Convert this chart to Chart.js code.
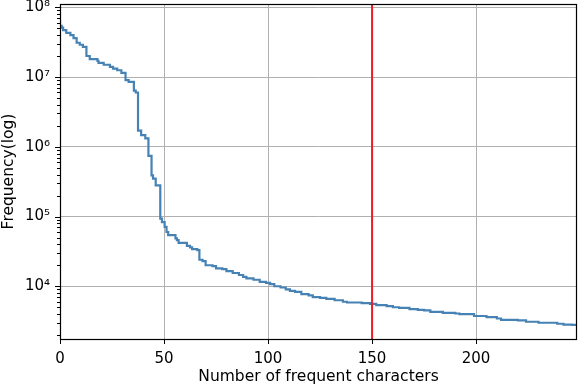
<!DOCTYPE html>
<html>
<head>
<meta charset="utf-8">
<script src="https://cdn.jsdelivr.net/npm/chart.js@4/dist/chart.umd.min.js"></script>
<style>
html,body{margin:0;padding:0;background:#fff;}
#wrap{width:578px;height:386px;}
</style>
</head>
<body>
<div id="wrap"><canvas id="c" width="578" height="386"></canvas></div>
<script>
// ---- data ----
const stepX = [0, 0.8, 1.5, 3, 5, 6.5, 8, 9.5, 11, 12.7, 14.3, 18, 18.5, 21, 24, 25.5, 27.5, 29.5, 31.5, 33, 35.5, 36.4, 37.5, 39, 41, 42.5, 44, 44.7, 46, 48.2, 49, 50.3, 51.2, 52, 55.5, 56.2, 57, 61, 62.5, 63.5, 66, 67, 68.5, 70, 73.3, 75, 78, 80, 83, 86, 88, 89.6, 93, 96, 99, 101, 103, 106, 108.5, 110.5, 113, 116, 119.5, 121.5, 125, 128, 132, 136, 138, 145, 149, 152, 157, 160, 163, 168, 172, 175, 178, 184, 190, 192, 199, 205, 210, 212, 220, 224, 230, 239, 242, 246, 248.5];
const stepY = [6.7e7, 5.4e7, 5.1e7, 4.7e7, 4.3e7, 4.0e7, 3.6e7, 3.1e7, 2.9e7, 2.7e7, 2.0e7, 1.8e7, 1.7e7, 1.6e7, 1.5e7, 1.4e7, 1.32e7, 1.25e7, 1.15e7, 9.0e6, 8.5e6, 6.4e6, 6.0e6, 1.7e6, 1.47e6, 1.32e6, 7.4e5, 3.9e5, 3.5e5, 2.8e5, 9.3e4, 8.3e4, 7.1e4, 6.0e4, 5.4e4, 4.85e4, 4.6e4, 4.2e4, 3.8e4, 3.6e4, 3.4e4, 3.3e4, 2.4e4, 2.3e4, 2.0e4, 1.94e4, 1.8e4, 1.76e4, 1.65e4, 1.55e4, 1.45e4, 1.36e4, 1.3e4, 1.24e4, 1.16e4, 1.12e4, 1.07e4, 1.0e4, 9.6e3, 9.0e3, 8.6e3, 8.3e3, 7.7e3, 7.4e3, 7.0e3, 6.8e3, 6.6e3, 6.3e3, 6.0e3, 5.85e3, 5.75e3, 5.6e3, 5.35e3, 5.2e3, 5.0e3, 4.9e3, 4.7e3, 4.6e3, 4.5e3, 4.3e3, 4.15e3, 4.07e3, 3.98e3, 3.75e3, 3.6e3, 3.45e3, 3.3e3, 3.25e3, 3.1e3, 3.0e3, 2.9e3, 2.82e3, 2.8e3];
const thresholdX = 150;
const xTickValues = [0, 50, 100, 150, 200];
const xRange = [0, 248.5];
const yRange = [1754, 1.114e8];
const xTitle = 'Number of frequent characters';
const yTitle = 'Frequency(log)';

// ---- helpers ----
const SUP = {'0':'⁰','1':'¹','2':'²','3':'³','4':'⁴','5':'⁵','6':'⁶','7':'⁷','8':'⁸','9':'⁹','-':'⁻'};
function isDecade(v){ const l = Math.log10(v); return Math.abs(l - Math.round(l)) < 1e-9; }
function supLabel(v){ const e = Math.round(Math.log10(v)); return '10' + String(e).split('').map(c=>SUP[c]).join(''); }

const curve = stepX.map((x,i)=>({x:x, y:stepY[i]}));
const redLine = [{x:thresholdX, y:yRange[0]}, {x:thresholdX, y:yRange[1]}];

const TICKFONT = {family:'"DejaVu Sans", sans-serif', size:15};
const TITLEFONT = {family:'"DejaVu Sans", sans-serif', size:15.5};

const frame = {
  id:'frame',
  afterDraw(chart){
    const ctx = chart.ctx, a = chart.chartArea;
    const xs = chart.scales.x, ys = chart.scales.y;
    ctx.save();
    ctx.strokeStyle = '#000';
    ctx.lineWidth = 1;
    xs.ticks.forEach(t=>{
      const px = Math.round(xs.getPixelForValue(t.value)) + 0.5;
      ctx.beginPath(); ctx.moveTo(px, a.bottom); ctx.lineTo(px, a.bottom + 5); ctx.stroke();
    });
    ys.ticks.forEach(t=>{
      const py = Math.round(ys.getPixelForValue(t.value)) + 0.5;
      const len = isDecade(t.value) ? 5 : 3;
      ctx.beginPath(); ctx.moveTo(a.left, py); ctx.lineTo(a.left - len, py); ctx.stroke();
    });
    ctx.lineWidth = 1.2;
    ctx.strokeRect(Math.round(a.left)+0.5, Math.round(a.top)+0.5, Math.round(a.right-a.left)-1, Math.round(a.bottom-a.top));
    ctx.restore();
  }
};

new Chart(document.getElementById('c'), {
  type:'line',
  data:{
    datasets:[
      {data:redLine, borderColor:'#ee1c24', borderWidth:2, pointRadius:0, order:0, fill:false},
      {data:curve, borderColor:'#4682b4', borderWidth:2.2, pointRadius:0, stepped:'after', order:1, fill:false}
    ]
  },
  options:{
    responsive:false,
    animation:false,
    devicePixelRatio:1,
    layout:{padding:{top:4, right:1, left:0, bottom:0}},
    plugins:{legend:{display:false}, tooltip:{enabled:false}},
    scales:{
      x:{
        type:'linear', min:xRange[0], max:xRange[1],
        afterBuildTicks(s){ s.ticks = xTickValues.map(v=>({value:v})); },
        afterFit(s){ s.height = 47; s.paddingLeft = 0; s.paddingRight = 0; },
        grid:{color:'#b0b0b0', lineWidth:1, drawTicks:false},
        border:{display:false},
        ticks:{font:TICKFONT, color:'#000', padding:11, maxRotation:0, autoSkip:false, callback:v=>String(v)},
        title:{display:true, text:xTitle, font:TITLEFONT, color:'#000', padding:{top:2, bottom:0}}
      },
      y:{
        type:'logarithmic', min:yRange[0], max:yRange[1],
        afterBuildTicks(s){
          const t = [];
          for (let e = 3; e <= 8; e++) for (let m = 1; m <= 9; m++) {
            const v = m * Math.pow(10, e);
            if (v >= yRange[0] && v <= yRange[1]) t.push({value:v});
          }
          s.ticks = t;
        },
        afterFit(s){ s.width = 60; s.paddingTop = 0; s.paddingBottom = 0; },
        grid:{drawTicks:false, lineWidth:1, color:c=> (c.tick && isDecade(c.tick.value)) ? '#b0b0b0' : 'rgba(0,0,0,0)'},
        border:{display:false},
        ticks:{font:TICKFONT, color:'#000', padding:10, autoSkip:false, callback:v=> isDecade(v) ? supLabel(v) : ''},
        title:{display:true, text:yTitle, font:TITLEFONT, color:'#000', padding:{top:0, bottom:0}}
      }
    }
  },
  plugins:[frame]
});
</script>
</body>
</html>
